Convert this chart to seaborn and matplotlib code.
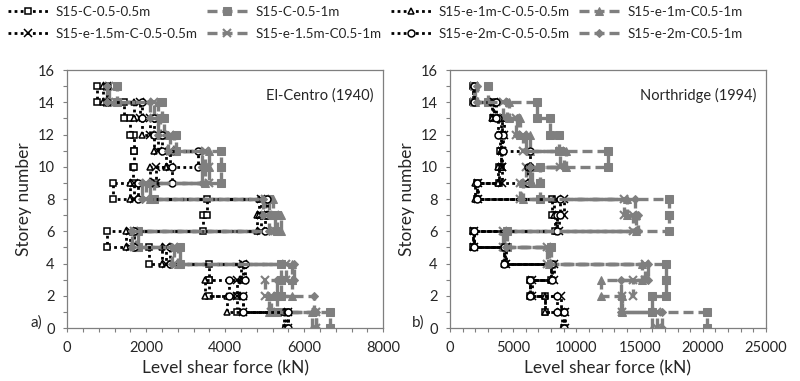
import numpy as np
import pandas as pd
import matplotlib
matplotlib.use("Agg")
import matplotlib.pyplot as plt
from matplotlib.ticker import MultipleLocator
import seaborn as sns

sns.set_style("white")
plt.rcParams['font.family'] = ['Lato', 'DejaVu Sans']

# storey shear per storey (storey 1 at bottom .. storey 15 at top), kN
series_names = ["S15-C-0.5-0.5m", "S15-C-0.5-1m",
                "S15-e-1m-C-0.5-0.5m", "S15-e-1m-C0.5-1m",
                "S15-e-1.5m-C-0.5-0.5m", "S15-e-1.5m-C0.5-1m",
                "S15-e-2m-C-0.5-0.5m", "S15-e-2m-C0.5-1m"]

# El-Centro (1940)
elc_c_05_05 = [5550, 4300, 3600, 3600, 2070, 1010, 3450, 3550, 1160, 1660, 1700, 1700, 1600, 1440, 750]
elc_c_05_1 = [6650, 5300, 5400, 5400, 2850, 1800, 5300, 5100, 2200, 3900, 3900, 2750, 2450, 2400, 1250]
elc_e1_05_05 = [5500, 4050, 3500, 4400, 2400, 1500, 4800, 4850, 1600, 2100, 2500, 2200, 1900, 1700, 900]
elc_e1_05_1 = [6200, 5100, 5700, 5700, 2800, 1750, 5400, 5200, 2100, 3500, 3600, 2700, 2350, 2300, 1000]
elc_e15_05_05 = [5600, 4450, 4300, 4450, 2500, 1600, 4900, 4900, 1700, 2250, 2600, 2300, 2100, 1850, 1000]
elc_e15_05_1 = [6300, 5150, 5000, 5550, 2700, 1700, 5250, 5000, 2000, 3600, 3500, 2600, 2300, 2200, 1050]
elc_e2_05_05 = [5600, 4450, 4100, 4500, 2600, 1700, 5000, 5050, 1800, 2650, 3300, 2400, 2200, 1900, 1000]
elc_e2_05_1 = [6300, 6240, 5300, 5730, 2650, 1650, 5100, 4950, 1900, 3400, 3400, 2550, 2300, 2100, 1000]

# Northridge (1994)
nor_c_05_05 = [9000, 7500, 6300, 8000, 4330, 1830, 8270, 8100, 2100, 3900, 4000, 3940, 4000, 3400, 1830]
nor_c_05_1 = [20300, 16000, 17100, 17100, 8000, 4500, 17300, 17300, 7100, 7100, 12500, 8660, 7900, 6850, 3000]
nor_e1_05_05 = [8900, 7500, 6300, 8000, 4300, 1800, 8400, 8200, 2000, 3800, 4000, 4000, 4100, 3300, 1800]
nor_e1_05_1 = [16000, 13600, 11950, 15200, 7800, 4300, 14700, 14000, 5800, 6500, 9200, 6300, 5500, 4700, 2000]
nor_e15_05_05 = [9100, 8800, 6500, 8200, 4400, 1900, 8600, 9000, 2200, 4100, 4100, 4100, 4300, 3500, 1900]
nor_e15_05_1 = [16400, 13600, 14500, 15400, 7700, 4200, 14500, 13800, 5500, 6000, 8700, 5800, 5200, 4200, 1900]
nor_e2_05_05 = [9000, 8500, 6300, 8100, 4300, 1900, 8500, 8700, 2100, 6200, 6300, 4200, 3800, 3600, 1900]
nor_e2_05_1 = [16800, 13500, 13500, 15700, 7900, 4400, 14900, 14600, 5600, 6300, 9000, 6000, 5300, 4500, 2100]

elc = [elc_c_05_05, elc_c_05_1, elc_e1_05_05, elc_e1_05_1,
       elc_e15_05_05, elc_e15_05_1, elc_e2_05_05, elc_e2_05_1]
nor = [nor_c_05_05, nor_c_05_1, nor_e1_05_05, nor_e1_05_1,
       nor_e15_05_05, nor_e15_05_1, nor_e2_05_05, nor_e2_05_1]

grey = "#7f7f7f"
dot = dict(color="black", linestyle=(0, (1, 1.2)), linewidth=2, markerfacecolor="white",
           markeredgecolor="black", markeredgewidth=1.1, markersize=5)
dash = dict(color=grey, linestyle=(0, (3, 1.5)), linewidth=2.4, markerfacecolor=grey,
            markeredgecolor=grey, markersize=5.5)
styles = [dict(dot, marker="s"), dict(dash, marker="s"),
          dict(dot, marker="^"), dict(dash, marker="^"),
          dict(dot, marker="x", markersize=6), dict(dash, marker="x", markersize=6, markeredgewidth=1.5),
          dict(dot, marker="o"), dict(dash, marker="D", markersize=4.5)]


def step_frame(shear):
    # each storey holds its shear from floor j-1 to floor j
    xs, ys = [], []
    for j, v in enumerate(shear):
        xs += [v, v]
        ys += [j, j + 1]
    return pd.DataFrame({"shear": xs, "storey": ys})


fig = plt.figure(figsize=(8, 3.81), dpi=100)
ax1 = fig.add_axes([0.084, 0.139, 0.395, 0.677])
ax2 = fig.add_axes([0.5625, 0.139, 0.395, 0.677])

for ax, data, xmax, major, minor, title, tag in [
        (ax1, elc, 8000, 2000, 400, "El-Centro (1940)", "a)"),
        (ax2, nor, 25000, 5000, 1000, "Northridge (1994)", "b)")]:
    for name, shear, st in zip(series_names, data, styles):
        sns.lineplot(data=step_frame(shear), x="shear", y="storey", sort=False,
                     estimator=None, ax=ax, label=name, legend=False, **st)
    ax.set_xlim(0, xmax)
    ax.set_ylim(0, 16)
    ax.xaxis.set_major_locator(MultipleLocator(major))
    ax.xaxis.set_minor_locator(MultipleLocator(minor))
    ax.yaxis.set_major_locator(MultipleLocator(2))
    ax.yaxis.set_minor_locator(MultipleLocator(1))
    ax.tick_params(which="both", direction="out", length=3, color=grey, width=0.8,
                   bottom=True, left=True, labelsize=10.5, pad=6)
    for s in ax.spines.values():
        s.set_color(grey)
        s.set_linewidth(0.9)
    ax.set_xlabel("Level shear force (kN)", fontsize=12.5)
    ax.set_ylabel("Storey number", fontsize=12.5)
    ax.text(0.97, 0.9, title, transform=ax.transAxes, ha="right", va="center", fontsize=10.5)
    ax.text(-0.08, 0.02, tag, transform=ax.transAxes, ha="right", va="center", fontsize=11)

h, l = ax1.get_legend_handles_labels()
order = [0, 4, 1, 5, 2, 6, 3, 7]
fig.legend([h[i] for i in order], [l[i] for i in order], ncol=4, loc="upper left",
           bbox_to_anchor=(0.0, 1.005), frameon=False, fontsize=9.6,
           handlelength=3.0, columnspacing=0.7, handletextpad=0.6, labelspacing=0.75,
           borderaxespad=0.2)

fig.savefig("out.png", dpi=100)
